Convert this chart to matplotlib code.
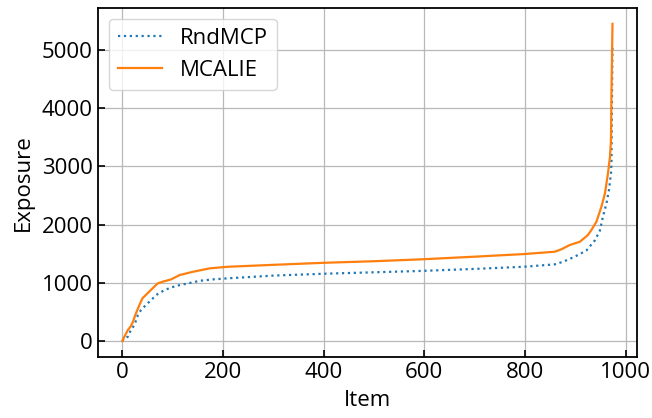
"""
    plot.py

    Sorted per-item exposure for RndMCP and MCALIE.
"""

import matplotlib.pyplot as plt

# Item index (sorted by exposure) and exposure values
RND_ITEMS = [0, 4, 11, 17, 24, 31, 37, 47, 57, 70, 84, 97, 114, 130, 154,
             180, 207, 300, 400, 500, 593, 700, 798, 859, 876, 899, 922,
             939, 949, 955, 962, 967, 971, 972, 973, 974]
RND_EXPOSURE = [0, 50, 74, 190, 275, 447, 533, 620, 705, 808, 876, 922, 962,
                990, 1036, 1060, 1077, 1125, 1157, 1182, 1205, 1240, 1277,
                1318, 1363, 1450, 1555, 1730, 1900, 2137, 2365, 2595, 2880,
                3110, 4200, 5100]

MCALIE_ITEMS = [0, 4, 11, 17, 21, 27, 34, 40, 50, 60, 70, 80, 97, 114, 140,
                174, 210, 300, 400, 500, 593, 700, 798, 859, 872, 889, 909,
                925, 932, 942, 952, 959, 965, 969, 971, 972, 974]
MCALIE_EXPOSURE = [0, 74, 190, 258, 330, 475, 620, 735, 820, 905, 990, 1020,
                   1060, 1135, 1190, 1250, 1277, 1310, 1345, 1372, 1404, 1450,
                   1495, 1535, 1575, 1650, 1706, 1821, 1907, 2050, 2308, 2537,
                   2880, 3167, 3454, 4300, 5450]

FIG_DIM = (6.52, 4.18)
FIG_DPI = 100
FONT_SIZE = 16

plt.rcParams['font.family'] = ['Open Sans', 'DejaVu Sans']
plt.rcParams['font.size'] = FONT_SIZE

fig, ax = plt.subplots(figsize=FIG_DIM, dpi=FIG_DPI)
fig.subplots_adjust(left=0.150, right=0.977, bottom=0.146, top=0.981)

ax.plot(RND_ITEMS, RND_EXPOSURE, linestyle=':', linewidth=1.6,
        color='tab:blue', label='RndMCP')
ax.plot(MCALIE_ITEMS, MCALIE_EXPOSURE, linestyle='-', linewidth=1.6,
        color='tab:orange', label='MCALIE')

ax.set_xlabel('Item', labelpad=5)
ax.set_ylabel('Exposure', labelpad=6)
ax.set_xticks([0, 200, 400, 600, 800, 1000])
ax.set_yticks([0, 1000, 2000, 3000, 4000, 5000])
ax.tick_params(direction='in', length=5, width=1.2, labelsize=FONT_SIZE)
ax.grid(True, color='#b8b8b8', linewidth=0.9)
for spine in ax.spines.values():
    spine.set_linewidth(1.3)
ax.legend(loc='upper left', fontsize=FONT_SIZE)

fig.savefig('out.png', dpi=FIG_DPI)
